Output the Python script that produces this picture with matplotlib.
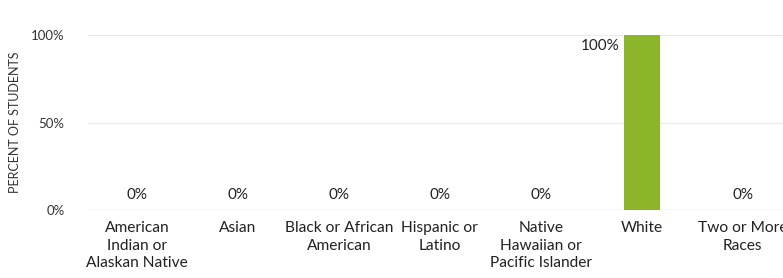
#!/usr/bin/env python3

import matplotlib
matplotlib.use("Agg")
import matplotlib.pyplot as plt

categories = ["American\nIndian or\nAlaskan Native", "Asian", "Black or African\nAmerican",
              "Hispanic or\nLatino", "Native\nHawaiian or\nPacific Islander", "White",
              "Two or More\nRaces"]
percents = [0, 0, 0, 0, 0, 100, 0]
yticks = [0, 50, 100]
ytick_labels = ["0%", "50%", "100%"]

plt.rcParams['font.family'] = ['Lato', 'DejaVu Sans']

fig = plt.figure(figsize=(7.83, 2.78), dpi=100)
ax = fig.add_axes([88 / 783, 68 / 278, 1 - 88 / 783, 175 / 278])

x = list(range(len(categories)))
ax.bar(x, percents, width=0.36, color="#8cb52a", zorder=3)

# value labels: the full bar gets its label on the left of its top
for xi, v in zip(x, percents):
    if v > 90:
        ax.annotate(f"{v}%", (xi - 0.18, v), xytext=(-3, -8), textcoords="offset points",
                    ha="right", va="center", fontsize=11, color="#222222")
    else:
        ax.annotate(f"{v}%", (xi, v), xytext=(0, 11), textcoords="offset points",
                    ha="center", va="center", fontsize=11, color="#222222")

ax.set_xlim(-0.485, 6.4)
ax.set_ylim(0, 100)
ax.set_xticks(x)
ax.set_xticklabels(categories, fontsize=11.2, linespacing=1.32, color="#222222")
ax.set_yticks(yticks)
ax.set_yticklabels(ytick_labels, fontsize=9.5, color="#333333")
ax.tick_params(axis="both", length=0)
ax.tick_params(axis="x", pad=8)
ax.tick_params(axis="y", pad=17)
ax.set_ylabel("PERCENT OF STUDENTS", fontsize=9, color="#333333", labelpad=7)

ax.grid(axis="y", color="#e6ebf0", linewidth=0.8, zorder=0)
ax.axhline(0, color="#cfdbe6", linewidth=1.0, zorder=2)
for s in ax.spines.values():
    s.set_visible(False)

fig.savefig("out.png", dpi=100)
